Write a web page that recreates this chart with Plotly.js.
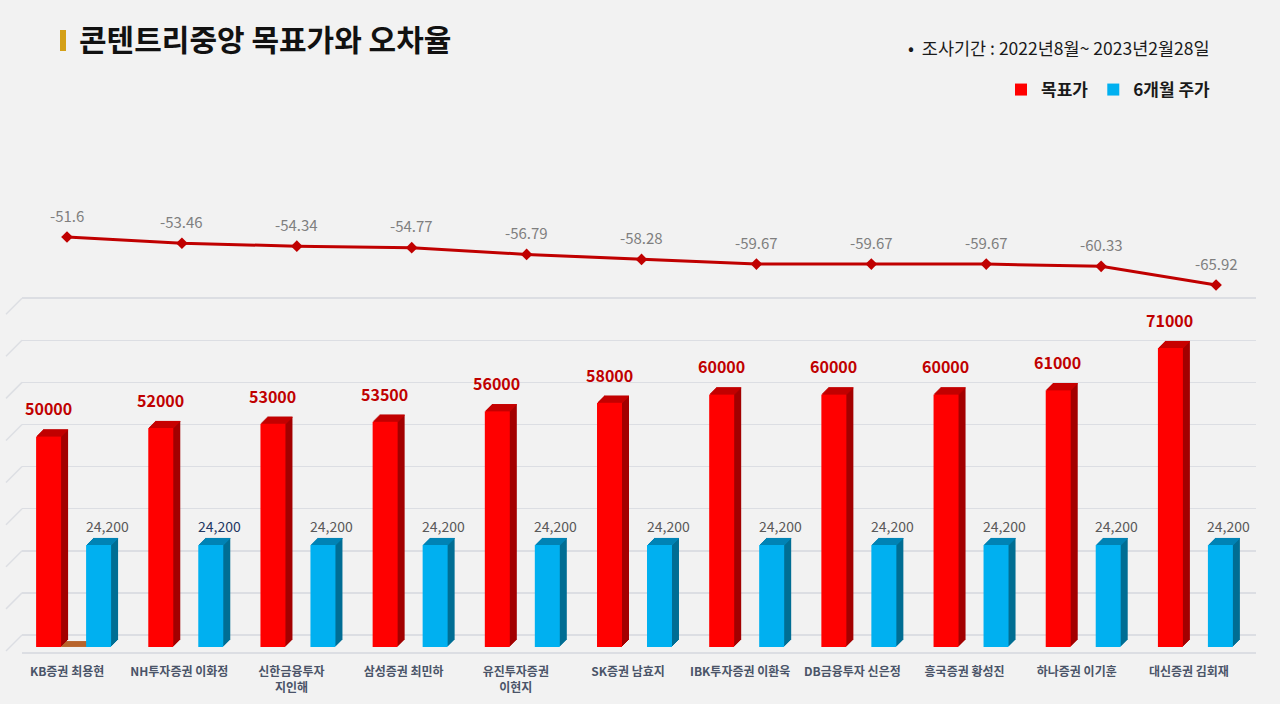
<!DOCTYPE html>
<html>
<head>
<meta charset="utf-8">
<script src="https://cdn.plot.ly/plotly-3.0.1.min.js"></script>
<style>
  html, body { margin: 0; padding: 0; background: #f2f2f2; }
  #chart { width: 1280px; height: 704px; }
</style>
</head>
<body>
<div id="chart"></div>
<script>
// ---------- data ----------
const categories = [
  "KB증권 최용현", "NH투자증권 이화정", "신한금융투자<br>지인해", "삼성증권 최민하",
  "유진투자증권<br>이현지", "SK증권 남효지", "IBK투자증권 이환욱", "DB금융투자 신은정",
  "흥국증권 황성진", "하나증권 이기훈", "대신증권 김회재"
];
const targetPrice = [50000, 52000, 53000, 53500, 56000, 58000, 60000, 60000, 60000, 61000, 71000];
const price6m = [24200, 24200, 24200, 24200, 24200, 24200, 24200, 24200, 24200, 24200, 24200];
const errorRate = [-51.6, -53.46, -54.34, -54.77, -56.79, -58.28, -59.67, -59.67, -59.67, -60.33, -65.92];
const floorMark = [1400, null, null, null, null, null, null, null, null, null, null];

// ---------- geometry helpers ----------
const W = 1280, H = 704;
const CAT_PX = 112.2;            // pixels per category on bar axis
const PX = 1 / CAT_PX;           // category units per pixel
const Y_PX_PER_K = 4.2095;       // pixels per 1000 units
const PY = 1000 / Y_PX_PER_K;    // y units per pixel
const DEPTH = 7;
const FONT = "Noto Sans CJK KR";

function bar3d(vals, leftPx, widthPx, cFront, cTop, cSide, name, showleg) {
  const tr = [];
  for (let k = DEPTH; k >= 1; k--) {
    tr.push({
      type: 'bar', x: categories, y: vals, base: k * PY,
      offset: (leftPx + k) * PX, width: widthPx * PX,
      marker: { color: cSide, line: { width: 0 } },
      showlegend: false, hoverinfo: 'skip'
    });
  }
  for (let k = 1; k <= DEPTH; k++) {
    tr.push({
      type: 'bar', x: categories,
      y: vals.map(v => v == null ? null : PY * 1.15),
      base: vals.map(v => v == null ? null : v + (k - 1) * PY),
      offset: (leftPx + k) * PX, width: widthPx * PX,
      marker: { color: cTop, line: { width: 0 } },
      showlegend: false, hoverinfo: 'skip'
    });
  }
  tr.push({
    type: 'bar', x: categories, y: vals, name: name,
    offset: leftPx * PX, width: widthPx * PX,
    marker: { color: cFront, line: { width: 0 } },
    showlegend: showleg
  });
  return tr;
}

const traces = [];
// floor piece
traces.push({
  type: 'bar', x: categories, y: floorMark,
  offset: -17 * PX, width: 26 * PX,
  marker: { color: '#b8642c', line: { width: 0 } },
  showlegend: false, hoverinfo: 'skip'
});
traces.push(...bar3d(targetPrice, -42, 25, '#ff0000', '#c80000', '#a30000', '목표가', true));
traces.push(...bar3d(price6m, 8, 25, '#00b0f0', '#0083b5', '#006e94', '6개월 주가', true));

// grid helper trace for back wall axis
traces.push({
  type: 'scatter', x: [categories[0]], y: [null], xaxis: 'x', yaxis: 'y3',
  showlegend: false, hoverinfo: 'skip', mode: 'markers'
});

// error-rate line
traces.push({
  type: 'scatter', mode: 'lines+markers', x: categories, y: errorRate,
  xaxis: 'x2', yaxis: 'y2', name: '오차율', showlegend: false,
  line: { color: '#c00000', width: 3 },
  marker: { symbol: 'diamond', size: 9, color: '#c00000' },
  hoverinfo: 'y'
});

// ---------- annotations ----------
const annotations = [];
targetPrice.forEach((v, i) => {
  annotations.push({
    x: categories[i], y: v, xref: 'x', yref: 'y', text: String(v),
    showarrow: false, xshift: -30, yshift: 28, yanchor: 'middle',
    font: { family: FONT, size: 16, color: '#c00000', weight: 'bold' }
  });
});
price6m.forEach((v, i) => {
  annotations.push({
    x: categories[i], y: v, xref: 'x', yref: 'y', text: v.toLocaleString('en-US'),
    showarrow: false, xshift: 29, yshift: 19, yanchor: 'middle',
    font: { family: FONT, size: 14, color: i === 1 ? '#1f3864' : '#595959' }
  });
});
errorRate.forEach((v, i) => {
  annotations.push({
    x: categories[i], y: v, xref: 'x2', yref: 'y2', text: String(v),
    showarrow: false, yshift: 22, yanchor: 'middle',
    font: { family: FONT, size: 15, color: '#7f7f7f' }
  });
});
annotations.push({
  xref: 'paper', yref: 'paper', x: 1212 / W, y: 1 - 47 / H,
  xanchor: 'right', yanchor: 'middle', showarrow: false,
  text: '•  조사기간 : 2022년8월~ 2023년2월28일',
  font: { family: FONT, size: 17.5, color: '#1a1a1a' }
});

// ---------- shapes ----------
const shapes = [{
  type: 'rect', xref: 'paper', yref: 'paper',
  x0: 60 / W, x1: 66 / W, y0: 1 - 51 / H, y1: 1 - 30 / H,
  fillcolor: '#d4a017', line: { width: 0 }
}];
for (let g = 0; g <= 80000; g += 10000) {
  shapes.push({
    type: 'line', xref: 'paper', yref: 'y3',
    x0: 6 / W, y0: g - 16 * PY, x1: 22 / W, y1: g,
    line: { color: '#dcdee3', width: 1.5 }, layer: 'below'
  });
}

const yBottomPx = 652, yTopPx = 652 - (90000 + 1200) / PY;

const layout = {
  width: W, height: H,
  paper_bgcolor: '#f2f2f2', plot_bgcolor: 'rgba(0,0,0,0)',
  margin: { l: 0, r: 0, t: 0, b: 0, pad: 0 },
  barmode: 'overlay',
  title: {
    text: '콘텐트리중앙 목표가와 오차율',
    x: 79 / W, xref: 'paper', xanchor: 'left',
    y: 1 - 40 / H, yref: 'paper', yanchor: 'middle',
    font: { family: FONT, size: 30, color: '#111111', weight: 'bold' }
  },
  font: { family: FONT },
  xaxis: {
    domain: [22 / W, 1256 / W], type: 'category',
    range: [-0.5, categories.length - 0.5],
    showgrid: false, zeroline: false,
    showline: true, linecolor: '#dcdee3', linewidth: 1.5,
    ticks: '', ticklabelstandoff: 8, ticklabelshift: -11,
    tickfont: { family: FONT, size: 12, color: '#4a5468', weight: 'bold' },
    fixedrange: true
  },
  yaxis: {
    domain: [1 - yBottomPx / H, 1 - yTopPx / H],
    range: [-1200, 90000],
    showgrid: false, zeroline: false, showticklabels: false, ticks: '',
    fixedrange: true
  },
  yaxis3: {
    overlaying: 'y', anchor: 'x',
    range: [-1200 - 2850, 90000 - 2850],
    tick0: 0, dtick: 10000,
    showgrid: true, gridcolor: '#dcdee3', gridwidth: 1.5,
    zeroline: false, showticklabels: false, ticks: '', fixedrange: true
  },
  xaxis2: {
    domain: [9.55 / W, 1273.5 / W], anchor: 'y2', type: 'category',
    range: [-0.5, categories.length - 0.5],
    visible: false, fixedrange: true
  },
  yaxis2: {
    domain: [0, 1], anchor: 'x2',
    range: [-190.9, 19.1],
    visible: false, fixedrange: true
  },
  legend: {
    orientation: 'h', x: 1216 / W, xanchor: 'right',
    y: 1 - 90 / H, yanchor: 'middle',
    bgcolor: 'rgba(0,0,0,0)', itemwidth: 30, traceorder: 'normal',
    font: { family: FONT, size: 17, color: '#1a1a1a', weight: 'bold' }
  },
  annotations: annotations,
  shapes: shapes,
  showlegend: true
};

Plotly.newPlot('chart', traces, layout, { displayModeBar: false, staticPlot: true });
</script>
</body>
</html>
